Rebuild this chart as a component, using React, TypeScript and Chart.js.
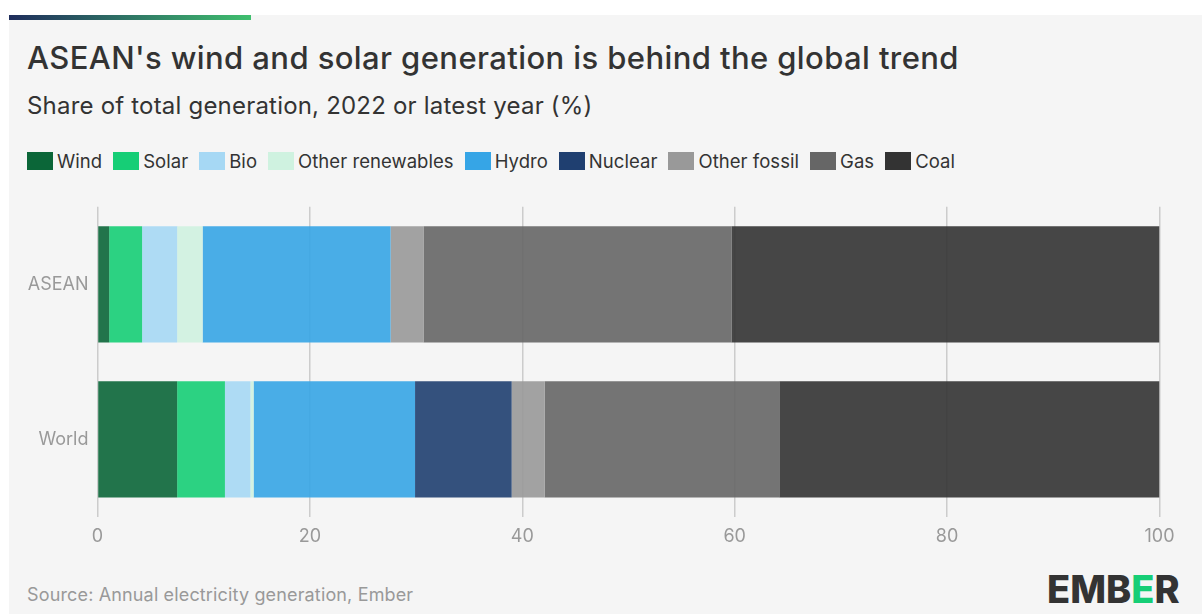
import React, { useEffect, useRef } from "react";
import { Chart, registerables } from "chart.js";

Chart.register(...registerables);

const categories = ["ASEAN", "World"];
const seriesNames = ["Wind", "Solar", "Bio", "Other renewables", "Hydro", "Nuclear", "Other fossil", "Gas", "Coal"];
const wind = [1.1, 7.5];
const solar = [3.1, 4.5];
const bio = [3.3, 2.4];
const otherRenewables = [2.4, 0.3];
const hydro = [17.7, 15.2];
const nuclear = [0, 9.1];
const otherFossil = [3.1, 3.1];
const gas = [29.0, 22.1];
const coal = [40.3, 35.8];
const xTickValues = [0, 20, 40, 60, 80, 100];

const seriesValues = [wind, solar, bio, otherRenewables, hydro, nuclear, otherFossil, gas, coal];
const legendColors = ["#0b6638", "#16ce76", "#a6d8f4", "#cff2e0", "#36a5e6", "#1f3f70", "#999999", "#666666", "#333333"];

function hexToRgba(hex: string, a: number) {
  const n = parseInt(hex.slice(1), 16);
  return `rgba(${(n >> 16) & 255},${(n >> 8) & 255},${n & 255},${a})`;
}

const FONT = "Inter, 'Noto Sans', sans-serif";

export default function App() {
  const canvasRef = useRef<HTMLCanvasElement | null>(null);

  useEffect(() => {
    if (!canvasRef.current) return;
    Chart.defaults.font.family = FONT;
    const chart = new Chart(canvasRef.current, {
      type: "bar",
      data: {
        labels: categories,
        datasets: seriesNames.map((name, i) => ({
          label: name,
          data: seriesValues[i],
          backgroundColor: hexToRgba(legendColors[i], 0.9),
          borderWidth: 0,
          barPercentage: 0.75,
          categoryPercentage: 1,
        })),
      },
      options: {
        indexAxis: "y",
        animation: false,
        responsive: false,
        maintainAspectRatio: false,
        layout: { padding: { top: 2, right: 42.5, left: 0, bottom: 0 } },
        plugins: {
          legend: { display: false },
          tooltip: { enabled: false },
          title: { display: false },
        },
        scales: {
          x: {
            type: "linear",
            stacked: true,
            min: 0,
            max: 100,
            afterBuildTicks: (s: any) => {
              s.ticks = xTickValues.map((v) => ({ value: v }));
            },
            afterFit: (s: any) => {
              s.height = 43;
            },
            grid: { color: "#cccccc", lineWidth: 1.5, drawTicks: false },
            border: { display: false },
            ticks: { color: "#999999", font: { size: 18, family: FONT }, padding: 9 },
          },
          y: {
            type: "category",
            stacked: true,
            afterFit: (s: any) => {
              s.width = 88.5;
            },
            grid: { display: false, drawTicks: false },
            border: { display: false },
            ticks: { color: "#999999", font: { size: 18, family: FONT }, padding: 9 },
          },
        },
      },
    } as any);
    return () => chart.destroy();
  }, []);

  return (
    <div
      style={{
        position: "absolute",
        left: 9,
        top: 15,
        width: 1193,
        height: 599,
        background: "#f5f5f5",
        overflow: "hidden",
        fontFamily: FONT,
      }}
    >
      <div
        style={{
          position: "absolute",
          left: 0,
          top: 0,
          width: 242,
          height: 5,
          background: "linear-gradient(to right, #1f2d5c, #3fbf6e)",
        }}
      />
      <div
        style={{
          position: "absolute",
          left: 18,
          top: 24,
          fontSize: 31,
          lineHeight: "38px",
          fontWeight: 500,
          letterSpacing: 0.4,
          color: "#333333",
          whiteSpace: "nowrap",
        }}
      >
        ASEAN's wind and solar generation is behind the global trend
      </div>
      <div
        style={{
          position: "absolute",
          left: 18,
          top: 77,
          fontSize: 24,
          lineHeight: "28px",
          letterSpacing: 0.2,
          color: "#333333",
          whiteSpace: "nowrap",
        }}
      >
        Share of total generation, 2022 or latest year (%)
      </div>
      <div
        style={{
          position: "absolute",
          left: 18,
          top: 137,
          display: "flex",
          alignItems: "center",
          whiteSpace: "nowrap",
        }}
      >
        {seriesNames.map((name, i) => (
          <div key={name} style={{ display: "flex", alignItems: "center", marginRight: 11 }}>
            <div style={{ width: 26, height: 18, background: legendColors[i], marginRight: 4 }} />
            <span style={{ fontSize: 18.5, lineHeight: "18px", letterSpacing: 0.05, color: "#333333" }}>{name}</span>
          </div>
        ))}
      </div>
      <canvas
        ref={canvasRef}
        width={1193}
        height={373}
        style={{ position: "absolute", left: 0, top: 172, width: 1193, height: 373 }}
      />
      <div
        style={{
          position: "absolute",
          left: 18,
          top: 570,
          fontSize: 18,
          lineHeight: "20px",
          letterSpacing: 0.15,
          color: "#999999",
          whiteSpace: "nowrap",
        }}
      >
        Source: Annual electricity generation, Ember
      </div>
      <div
        style={{
          position: "absolute",
          left: 1038,
          top: 552,
          fontSize: 38,
          lineHeight: "44px",
          fontWeight: 800,
          color: "#333333",
          letterSpacing: 0,
          whiteSpace: "nowrap",
        }}
      >
        EMB<span style={{ color: "#16ce76" }}>E</span>R
      </div>
    </div>
  );
}
